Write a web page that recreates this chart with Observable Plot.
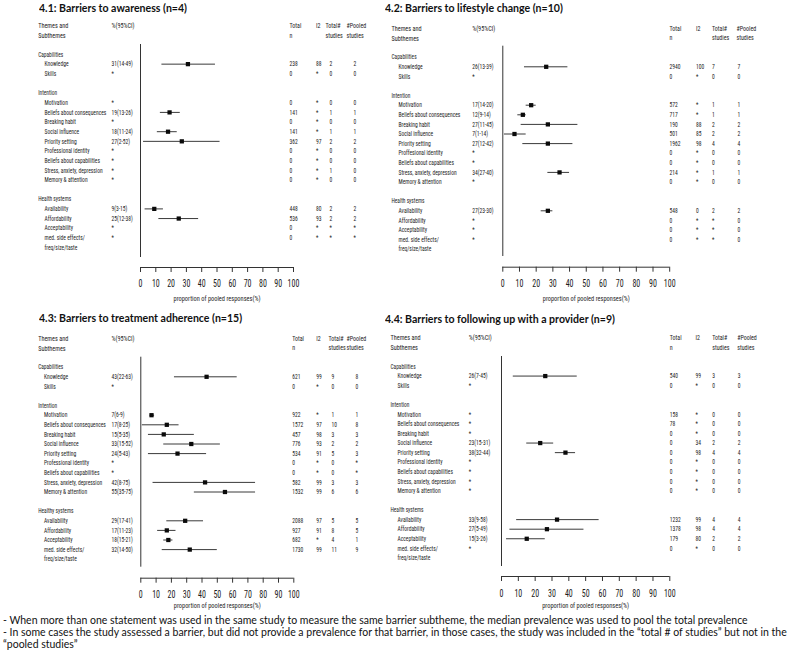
<!DOCTYPE html>
<html><head><meta charset="utf-8">
<script src="https://cdn.jsdelivr.net/npm/d3@7"></script>
<script src="https://cdn.jsdelivr.net/npm/@observablehq/plot@0.6"></script>
<style>
body{margin:0;background:#fff;}
#root{position:relative;width:788px;height:662px;overflow:hidden;background:#fff;}
.panel{position:absolute;}
.title{position:absolute;font-family:Lato,"Open Sans",sans-serif;font-weight:700;font-size:11px;line-height:12px;white-space:nowrap;color:#111;transform-origin:0 50%;}
.note{position:absolute;left:3px;font-family:Lato,"Open Sans",sans-serif;font-size:11px;line-height:12px;white-space:nowrap;color:#111;transform-origin:0 50%;}
</style></head><body><div id="root"></div>
<script>
// ---------- data ----------
const themes = ["Capabilities", "Intention", "Health systems"];
const themes43 = ["Capabilities", "Intention", "Healthy systems"];
const themeSizes = [2, 9, 4];
const subthemes = ["Knowledge","Skills","Motivation","Beliefs about consequences","Breaking habit","Social influence","Priority setting","Professional identity","Beliefs about capabilities","Stress, anxiety, depression","Memory & attention","Availability","Affordability","Acceptability","med. side effects/"];
const subthemes42 = ["Knowledge","Skills","Motivation","Beliefs about consequences","Breaking habit","Social influence","Priority setting","Proffesional identity","Beliefs about capabilities","Stress, anxiety, depression","Memory & attention","Availability","Affordability","Acceptability","med. side effects/"];
const subthemeCont = "freq/size/taste";
const headTheme = ["Themes and", "Subthemes"];
const headCI = ["%(95%CI)", ""];
const headN = ["Total", "n"];
const headI2 = ["I2", ""];
const headTot = ["Total#", "studies"];
const headPooled = ["#Pooled", "studies"];
const axisLabel = "proportion of pooled responses(%)";
const xTicks = [0, 10, 20, 30, 40, 50, 60, 70, 80, 90, 100];

const title41 = "4.1: Barriers to awareness (n=4)";
const ci41 = ["31(14-49)","*","*","19(13-26)","*","18(11-24)","27(2-52)","*","*","*","*","9(3-15)","25(12-38)","*","*"];
const est41 = [31,null,null,19,null,18,27,null,null,null,null,9,25,null,null];
const lo41 = [14,null,null,13,null,11,2,null,null,null,null,3,12,null,null];
const hi41 = [49,null,null,26,null,24,52,null,null,null,null,15,38,null,null];
const n41 = ["238","0","0","141","0","141","362","0","0","0","0","448","536","0","0"];
const i2_41 = ["88","*","*","*","*","*","97","*","*","*","*","80","93","*","*"];
const tot41 = ["2","0","0","1","0","1","2","0","0","1","0","2","2","*","*"];
const pool41 = ["2","0","0","1","0","1","2","0","0","0","0","2","2","*","*"];

const title42 = "4.2: Barriers to lifestyle change (n=10)";
const ci42 = ["26(13-39)","*","17(14-20)","12(9-14)","27(11-45)","7(1-14)","27(12-42)","*","*","34(27-40)","*","27(23-30)","*","*","*"];
const est42 = [26,null,17,12,27,7,27,null,null,34,null,27,null,null,null];
const lo42 = [13,null,14,9,11,1,12,null,null,27,null,23,null,null,null];
const hi42 = [39,null,20,14,45,14,42,null,null,40,null,30,null,null,null];
const n42 = ["2940","0","572","717","190","501","1962","0","0","214","0","548","0","0","0"];
const i2_42 = ["100","*","*","*","88","85","98","*","*","*","*","0","*","*","*"];
const tot42 = ["7","0","1","1","2","2","4","0","0","1","0","2","*","*","*"];
const pool42 = ["7","0","1","1","2","2","4","0","0","1","0","2","0","0","0"];

const title43 = "4.3: Barriers to treatment adherence (n=15)";
const ci43 = ["43(22-63)","*","7(6-9)","17(8-25)","15(5-35)","33(15-52)","24(5-43)","*","*","42(8-75)","55(35-75)","29(17-41)","17(11-23)","18(15-21)","32(14-50)"];
const est43 = [43,null,7,17,15,33,24,null,null,42,55,29,17,18,32];
const lo43 = [22,null,6,1,5,15,5,null,null,8,35,17,11,15,14];
const hi43 = [63,null,9,25,35,52,43,null,null,75,75,41,23,21,50];
const n43 = ["621","0","922","1572","457","776","534","0","0","582","1532","2088","927","682","1730"];
const i2_43 = ["99","*","*","97","98","93","91","*","*","99","99","97","91","*","99"];
const tot43 = ["9","0","1","10","3","2","5","0","0","3","6","5","8","4","11"];
const pool43 = ["8","0","1","8","3","2","3","*","*","3","6","5","5","1","9"];

const title44 = "4.4: Barriers to following up with a provider (n=9)";
const ci44 = ["26(7-45)","*","*","*","*","23(15-31)","38(32-44)","*","*","*","*","33(9-58)","27(5-49)","15(3-26)","*"];
const est44 = [26,null,null,null,null,23,38,null,null,null,null,33,27,15,null];
const lo44 = [7,null,null,null,null,15,32,null,null,null,null,9,5,3,null];
const hi44 = [45,null,null,null,null,31,44,null,null,null,null,58,49,26,null];
const n44 = ["540","0","158","78","0","0","0","0","0","0","0","1232","1378","179","0"];
const i2_44 = ["99","*","*","*","*","34","98","*","*","*","*","99","98","80","*"];
const tot44 = ["3","0","0","0","0","2","4","0","0","0","0","4","4","2","0"];
const pool44 = ["3","0","0","0","0","2","4","0","0","0","0","4","4","2","0"];

const notes = [
  "- When more than one statement was used in the same study to measure the same barrier subtheme, the median prevalence was used to pool the total prevalence",
  "- In some cases the study assessed a barrier, but did not provide a prevalence for that barrier, in those cases, the study was included in the \u201ctotal # of studies\u201d but not in the",
  "\u201cpooled studies\u201d"
];

// ---------- layout ----------
const FAMILY = "'Liberation Sans Narrow','Arial Narrow','Roboto Condensed','Liberation Sans',Arial,sans-serif";
const panels = [
  {title: title41, themes: themes, subs: subthemes,
   cols: {ci: ci41, est: est41, lo: lo41, hi: hi41, n: n41, i2: i2_41, tot: tot41, pooled: pool41},
   box: {left: 0, top: 0, w: 380, h: 305}, x0: 140, x100: 293, row0: 54, step: 9.65,
   lineTop: 44, lineBottom: 257, axisY: 267, tickLabelY: 283, axisLabelY: 300, titleX: 39, titleY: 8,
   col: {cat: 37.7, sub: 44, ci: 111, n: 289, i2: 315.5, totH: 325, totD: 329, pooledH: 346, pooledD: 353}},
  {title: title42, themes: themes, subs: subthemes42,
   cols: {ci: ci42, est: est42, lo: lo42, hi: hi42, n: n42, i2: i2_42, tot: tot42, pooled: pool42},
   box: {left: 380, top: 0, w: 408, h: 305}, x0: 502.3, x100: 669.2, row0: 56.7, step: 9.6,
   lineTop: 45.7, lineBottom: 256, axisY: 266.7, tickLabelY: 283, axisLabelY: 300, titleX: 385, titleY: 8.3,
   col: {cat: 391, sub: 398, ci: 471.7, n: 669, i2: 695.5, totH: 711.5, totD: 711.5, pooledH: 736, pooledD: 737}},
  {title: title43, themes: themes43, subs: subthemes,
   cols: {ci: ci43, est: est43, lo: lo43, hi: hi43, n: n43, i2: i2_43, tot: tot43, pooled: pool43},
   box: {left: 0, top: 305, w: 380, h: 310}, x0: 140.3, x100: 293.3, row0: 366.7, step: 9.6,
   lineTop: 356.7, lineBottom: 566.7, axisY: 577.7, tickLabelY: 594.3, axisLabelY: 607.7, titleX: 39, titleY: 318,
   col: {cat: 37.7, sub: 43.5, ci: 111, n: 291.7, i2: 315.7, totH: 328, totD: 331, pooledH: 346, pooledD: 355}},
  {title: title44, themes: themes, subs: subthemes,
   cols: {ci: ci44, est: est44, lo: lo44, hi: hi44, n: n44, i2: i2_44, tot: tot44, pooled: pool44},
   box: {left: 380, top: 305, w: 408, h: 310}, x0: 501, x100: 669.3, row0: 366, step: 9.57,
   lineTop: 356, lineBottom: 566, axisY: 576, tickLabelY: 592.7, axisLabelY: 607.5, titleX: 385, titleY: 319,
   col: {cat: 390, sub: 397, ci: 468.3, n: 669.3, i2: 695, totH: 711.7, totD: 711.7, pooledH: 736.7, pooledD: 737.3}}
];

function buildRows(themeLabels, subLabels, cols) {
  const themeRows = [], subRows = [], contRows = [];
  let r = 0, k = 0;
  themeSizes.forEach((size, t) => {
    themeRows.push({row: r++, label: themeLabels[t]});
    for (let j = 0; j < size; j++, k++) {
      subRows.push({row: r++, label: subLabels[k], ci: cols.ci[k], est: cols.est[k], lo: cols.lo[k], hi: cols.hi[k],
        n: cols.n[k], i2: cols.i2[k], tot: cols.tot[k], pooled: cols.pooled[k]});
    }
    r++;
  });
  contRows.push({row: subRows[subRows.length - 1].row + 1, label: subthemeCont});
  const headRows = headTheme.map((h, i) => ({row: i - 3, theme: h, ci: headCI[i], n: headN[i], i2: headI2[i], tot: headTot[i], pooled: headPooled[i]}));
  return {themeRows, subRows, contRows, headRows};
}

function measure(text, font) {
  const c = document.createElement("canvas").getContext("2d");
  c.font = font;
  return c.measureText(text).width;
}

const root = document.getElementById("root");
const textScale = 62 / measure("Beliefs about consequences", "7px " + FAMILY);
const INK = "#1c1c1c";

panels.forEach(cfg => {
  const {left, top, w, h} = cfg.box;
  const yd0 = (cfg.lineTop - cfg.row0) / cfg.step, yd1 = (cfg.lineBottom - cfg.row0) / cfg.step;
  const mt = cfg.lineTop - top, mb = top + h - cfg.lineBottom;
  const ml = cfg.x0 - left, mr = left + w - cfg.x100;
  const dxOf = gx => gx - cfg.x0;
  const R = buildRows(cfg.themes, cfg.subs, cfg.cols);
  const withEst = R.subRows.filter(d => d.est != null);
  const txt = (data, text, gx, size = 7) => Plot.text(data, {y: "row", text, frameAnchor: "left", textAnchor: "start", dx: dxOf(gx), fontSize: size, fill: INK});
  const axisOff = cfg.axisY - cfg.lineBottom;
  const tickSize = 5;
  const HS = 7.5;
  const svg = Plot.plot({
    width: w, height: h, marginTop: mt, marginBottom: mb, marginLeft: ml, marginRight: mr,
    x: {domain: [0, 100], label: null},
    y: {domain: [yd0, yd1], range: [mt, h - mb], axis: null, label: null},
    style: {fontFamily: FAMILY, fontSize: "7px", background: "none", overflow: "visible", color: INK},
    marks: [
      Plot.ruleX([0], {stroke: "#333", strokeWidth: 1}),
      Plot.ruleY(withEst, {y: "row", x1: "lo", x2: "hi", stroke: "#3a3a3a", strokeWidth: 1}),
      Plot.dot(withEst, {x: "est", y: "row", symbol: "square", r: 2.4, fill: "#0a0a0a", stroke: "none"}),
      Plot.ruleY([yd1], {dy: axisOff, stroke: "#333", strokeWidth: 1}),
      Plot.axisX({ticks: xTicks, tickSize, tickPadding: cfg.tickLabelY - cfg.axisY - tickSize - 3.6, dy: axisOff,
                  fontSize: 10, label: null, stroke: "#333", fill: INK, tickFormat: d => String(d)}),
      Plot.text([axisLabel], {text: d => d, frameAnchor: "bottom", dy: cfg.axisLabelY - cfg.lineBottom, fontSize: 8, fill: INK}),
      txt(R.headRows, "theme", cfg.col.cat, 7.8),
      txt(R.headRows, "ci", cfg.col.ci, 7.8),
      txt(R.headRows, "n", cfg.col.n, HS),
      txt(R.headRows, "i2", cfg.col.i2, HS),
      txt(R.headRows, "tot", cfg.col.totH, HS),
      txt(R.headRows, "pooled", cfg.col.pooledH, HS),
      txt(R.themeRows, "label", cfg.col.cat, 6.8),
      txt(R.subRows, "label", cfg.col.sub),
      txt(R.contRows, "label", cfg.col.sub),
      txt(R.subRows, "ci", cfg.col.ci),
      txt(R.subRows, "n", cfg.col.n),
      txt(R.subRows, "i2", cfg.col.i2),
      txt(R.subRows, "tot", cfg.col.totD),
      txt(R.subRows, "pooled", cfg.col.pooledD)
    ]
  });
  svg.classList.add("panel");
  svg.style.left = left + "px";
  svg.style.top = top + "px";
  root.appendChild(svg);
  // condense text horizontally like the narrow R device font
  svg.querySelectorAll("text").forEach(t => {
    const tr = t.getAttribute("transform");
    if (tr) t.setAttribute("transform", tr + ` scale(${textScale},1)`);
    else {
      const x = +t.getAttribute("x") || 0, y = +t.getAttribute("y") || 0;
      t.removeAttribute("x"); t.removeAttribute("y");
      t.setAttribute("transform", `translate(${x},${y}) scale(${textScale},1)`);
    }
  });
  const d = document.createElement("div");
  d.className = "title";
  d.textContent = cfg.title;
  d.style.left = cfg.titleX + "px";
  d.style.top = (cfg.titleY - 6) + "px";
  root.appendChild(d);
});

const titleScale = 148 / measure(title41, "bold 11px Lato");
document.querySelectorAll(".title").forEach(d => d.style.transform = `scaleX(${titleScale})`);

const noteTops = [620, 631.7, 644];
const noteScale = 785 / measure(notes[1], "11px Lato");
notes.forEach((s, i) => {
  const d = document.createElement("div");
  d.className = "note";
  d.textContent = s;
  d.style.top = (noteTops[i] - 6) + "px";
  d.style.transform = `scaleX(${noteScale})`;
  root.appendChild(d);
});
</script></body></html>
